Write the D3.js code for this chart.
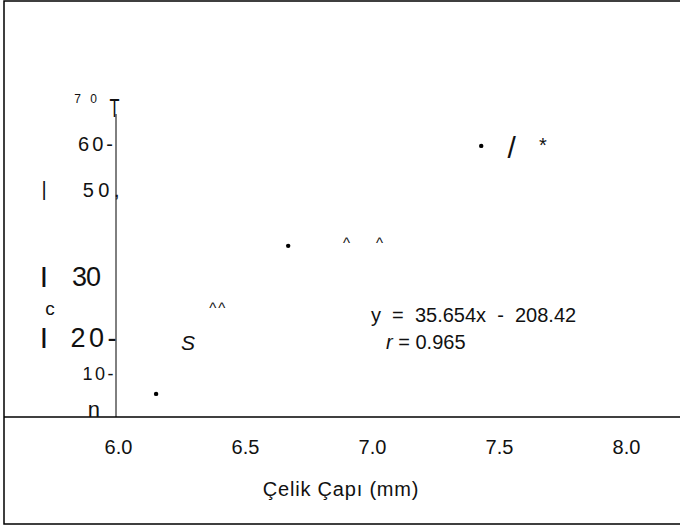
<!DOCTYPE html>
<html>
<head>
<meta charset="utf-8">
<script src="https://cdn.jsdelivr.net/npm/d3@7"></script>
<style>
  body { margin: 0; background: #fff; }
  text { font-family: "Liberation Sans", Arial, sans-serif; fill: #111; }
</style>
</head>
<body>
<div id="graphic"></div>
<script>
// data
const diameters = [6.15, 6.67, 7.43];
const strengths = [5.3, 37.9, 59.9];

const xTicks = [6.0, 6.5, 7.0, 7.5, 8.0];
const yTickValues = [0, 10, 20, 30, 50, 60, 70];
const yTickLabels = ["n", "10-", "20-", "30", "50,", "60-", "7 0"];

// scanned leftovers of the fit line, placed in data units
const fitGlyphs = ["S", "^^", "^", "^", "/", "*"];
const fitGlyphX = [6.276, 6.395, 6.90, 7.03, 7.55, 7.673];
const fitGlyphY = [16.7, 25.2, 39.4, 39.4, 59.7, 61.3];

// leftovers of the y title
const yTitleGlyphs = ["|", "I", "c", "I"];
const yTitleValues = [50.2, 31.2, 23.8, 17.8];

const xTitle = "Çelik Çapı (mm)";
const fitLabel = "y  =  35.654x  -  208.42";
const rLabel = "= 0.965";

const W = 680, H = 529;
const frame = { left: 4, top: 1, bottom: 524 };

const svg = d3.select("#graphic").append("svg")
  .attr("width", W)
  .attr("height", H);

const x = d3.scaleLinear().domain([6, 8]).range([118, 626]);
const y = d3.scaleLinear().domain([0, 70]).range([418, 100]);
const axisX = 116;

// outer frame (no right side)
svg.append("path")
  .attr("d", `M${W},${frame.top}H${frame.left}V${frame.bottom}H${W}`)
  .attr("fill", "none")
  .attr("stroke", "#000")
  .attr("stroke-width", 1.5);

// horizontal axis line runs the full width
svg.append("line")
  .attr("x1", frame.left).attr("x2", W)
  .attr("y1", 417).attr("y2", 417)
  .attr("stroke", "#000").attr("stroke-width", 1.5);

// vertical axis
svg.append("line")
  .attr("x1", axisX).attr("x2", axisX)
  .attr("y1", 114).attr("y2", 417)
  .attr("stroke", "#000").attr("stroke-width", 1);

svg.append("text")
  .attr("x", 109.5).attr("y", 117)
  .attr("font-size", 25)
  .attr("textLength", 10)
  .attr("lengthAdjust", "spacingAndGlyphs")
  .text("T");

// x axis labels, no tick marks
const xAxis = d3.axisBottom(x)
  .tickValues(xTicks)
  .tickFormat(d3.format(".1f"))
  .tickSize(0)
  .tickPadding(0);

const gx = svg.append("g")
  .attr("transform", "translate(0,440)")
  .call(xAxis);
gx.select(".domain").remove();
gx.selectAll("text")
  .attr("font-size", 20)
  .attr("font-family", "Liberation Sans, Arial, sans-serif")
  .attr("fill", "#111");

svg.append("text")
  .attr("x", 341).attr("y", 496)
  .attr("text-anchor", "middle")
  .attr("font-size", 20)
  .attr("letter-spacing", 0.8)
  .text(xTitle);

// y tick labels (the dashes are the tick marks in the scan)
const yStyle = {
  0:  { size: 22, space: 0, end: 100, shift: -1 },
  10: { size: 18, space: 2.5, end: 116, shift: 1 },
  20: { size: 27, space: 3.5, end: 120, shift: 10 },
  30: { size: 27, space: -1, end: 100, shift: -5 },
  50: { size: 20, space: 4.5, end: 124, shift: -1 },
  60: { size: 20, space: 3, end: 116, shift: -2 },
  70: { size: 12, space: 3, end: 100, shift: -1 }
};
svg.selectAll(".ytick")
  .data(yTickValues)
  .enter().append("text")
    .attr("class", "ytick")
    .attr("x", d => yStyle[d].end)
    .attr("y", d => y(d) + yStyle[d].shift)
    .attr("dy", d => d === 0 ? "0" : "0.36em")
    .attr("text-anchor", "end")
    .attr("font-size", d => yStyle[d].size)
    .attr("letter-spacing", d => yStyle[d].space)
    .text((d, i) => yTickLabels[i]);

svg.selectAll(".ytitle")
  .data(yTitleValues)
  .enter().append("text")
    .attr("class", "ytitle")
    .attr("x", (d, i) => i === 2 ? 50 : 44)
    .attr("y", d => y(d))
    .attr("dy", (d, i) => i === 0 ? "0.3em" : i === 2 ? "0.25em" : "0.36em")
    .attr("text-anchor", "middle")
    .attr("font-size", (d, i) => i === 0 ? 20 : i === 2 ? 19 : 30)
    .text((d, i) => yTitleGlyphs[i]);

// points
svg.selectAll("circle")
  .data(diameters)
  .enter().append("circle")
    .attr("cx", d => x(d))
    .attr("cy", (d, i) => y(strengths[i]))
    .attr("r", 2.2)
    .attr("fill", "#000");

// fit line remnants
const glyphSize = { "S": 21, "^^": 15, "^": 15, "/": 30, "*": 20 };
svg.selectAll(".glyph")
  .data(fitGlyphX)
  .enter().append("text")
    .attr("class", "glyph")
    .attr("x", d => x(d))
    .attr("y", (d, i) => y(fitGlyphY[i]))
    .attr("dy", (d, i) => fitGlyphs[i] === "^" || fitGlyphs[i] === "^^" || fitGlyphs[i] === "*" ? "0.6em" : "0.36em")
    .attr("text-anchor", "middle")
    .attr("font-size", (d, i) => glyphSize[fitGlyphs[i]])
    .attr("font-style", (d, i) => fitGlyphs[i] === "S" ? "italic" : null)
    .attr("letter-spacing", (d, i) => fitGlyphs[i] === "^^" ? 2 : 0)
    .text((d, i) => fitGlyphs[i]);

// equation
svg.append("text")
  .attr("x", 371).attr("y", 322)
  .attr("font-size", 20)
  .style("white-space", "pre")
  .text(fitLabel);

const rText = svg.append("text")
  .attr("x", 386).attr("y", 349)
  .attr("font-size", 20)
  .style("white-space", "pre");
rText.append("tspan").attr("font-style", "italic").text("r ");
rText.append("tspan").text(rLabel);
</script>
</body>
</html>
